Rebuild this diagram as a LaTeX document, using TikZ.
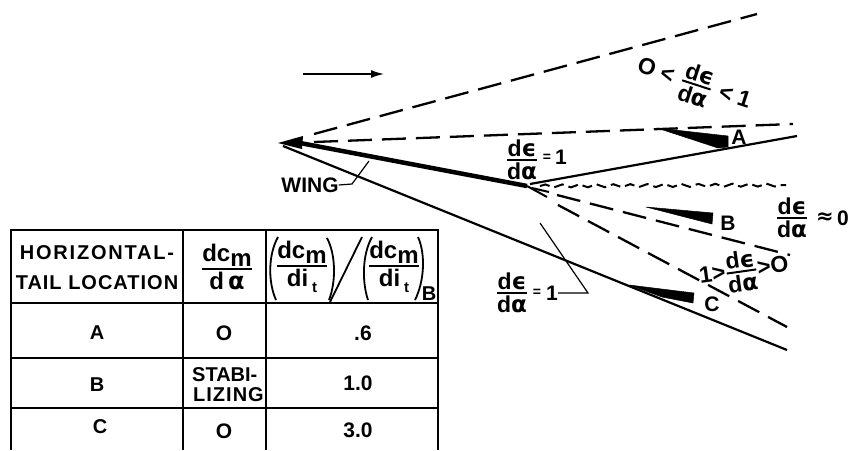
\documentclass[tikz,border=0pt]{standalone}
\usepackage{fontspec}
\usetikzlibrary{decorations.pathmorphing,arrows.meta}
\setmainfont{Liberation Sans}
\newfontfamily\widefont{Liberation Sans}[LetterSpace=9]
\newfontfamily\midfont{Liberation Sans}[LetterSpace=5]
\newfontfamily\gfont{DejaVu Sans}
\newcommand\eps{{\gfont\bfseries ϵ}}
\newcommand\alp{{\gfont\bfseries α}}
\newcommand\fr[2]{\ensuremath{\fontdimen8\textfont3=2pt \frac{\hbox{#1}}{\hbox{#2}}}}
\newcommand\de{\fr{d\eps}{d\alp}}
\newcommand\subm{\raisebox{-5pt}{m}}
\newcommand\subt{\raisebox{-6pt}{\fontsize{15}{15}\selectfont t}}
\tikzset{
  lab/.style={inner sep=0pt,font=\fontsize{23}{26}\selectfont\bfseries},
  bigl/.style={inner sep=0pt,font=\fontsize{21}{24}\selectfont\bfseries},
  hdr/.style={inner sep=0pt,font=\fontsize{24}{27}\selectfont\bfseries},
  small/.style={inner sep=0pt,font=\fontsize{14}{16}\selectfont\bfseries},
  wide/.style={inner sep=0pt,font=\fontsize{20}{24}\selectfont\widefont\bfseries},
  mid/.style={inner sep=0pt,font=\fontsize{20}{24}\selectfont\midfont\bfseries},
  plain/.style={inner sep=0pt,font=\fontsize{20}{24}\selectfont\bfseries},
  solid line/.style={draw,line width=2.2pt},
  dash line/.style={draw,line width=2.3pt,dash pattern=on 24pt off 10pt},
  wave line/.style={draw,line width=2pt,dash pattern=on 10pt off 5pt,
     decorate,decoration={snake,amplitude=1.5pt,segment length=17pt}},
  wedge/.style={fill=black,draw=black,line width=.5pt,line join=round},
  grid line/.style={draw,line width=1.8pt},
  leader/.style={draw,line width=1.2pt},
  paren/.style={draw,line width=1.8pt},
}
\begin{document}
\begin{tikzpicture}[x=1pt,y=-1pt]
\useasboundingbox (0,0) rectangle (850,450);

% flow arrow
\coordinate (f1) at (303,74); \coordinate (f2) at (384,74);
\draw[line width=1.6pt,-{Latex[length=13pt,width=8pt]}] (f1) -- (f2);

% wing
\coordinate (tip) at (278,143);
\coordinate (te) at (527,186);
\fill (tip) -- (303,136) -- (302,149) -- cycle;
\draw[line width=4.5pt] (300,143) -- (te);
\coordinate (f3) at (547,197); \coordinate (f4) at (549,192);
\draw[line width=2pt] (te) -- (f3);
\draw[line width=2pt] (532,188) -- (f4);

% solid wake lines
\coordinate (lowS) at (283,146); \coordinate (lowE) at (787,350);
\path[solid line] (lowS) -- (lowE);
\coordinate (upS) at (530,184); \coordinate (upE) at (797,136);
\path[solid line] (upS) -- (upE);

% dashed lines
\coordinate (d1s) at (314,134); \coordinate (d1e) at (757,14);
\path[dash line] (d1s) -- (d1e);
\coordinate (d2s) at (314,142); \coordinate (d2e) at (793,124);
\path[dash line] (d2s) -- (d2e);
\coordinate (d3s) at (557,195); \coordinate (d3e) at (790,255);
\path[dash line] (d3s) -- (d3e);
\coordinate (d4s) at (558,205); \coordinate (d4e) at (787,327);
\path[dash line] (d4s) -- (d4e);
\coordinate (w1) at (540,186); \coordinate (w2) at (786,185);
\path[wave line] (w1) -- (w2);

% tails
\path[wedge] (657,128) -- (728,136) -- (728,147) -- (718,148) -- cycle;
\path[wedge] (646,207) -- (713,213) -- (712,224) -- cycle;
\path[wedge] (629,285) -- (694,293) -- (693,303) -- (662,297) -- cycle;
\node[bigl] (lA) at (739,137) {A};
\node[bigl] (lB) at (728,223) {B};
\node[bigl] (lC) at (712,304) {C};

% WING label
\node[bigl] (wing) at (310,185) {WING};
\coordinate (wl1) at (352,184); \coordinate (wl2) at (369,161);
\path[leader] (wing.east) -- (wl1) -- (wl2);

% epsilon labels
\node[lab] (e1) at (522,160) {\de};
\node[small] (e1a) at (547,158) {=};
\node[bigl] (e1b) at (561,157) {1};
\node[lab,rotate=-18] (e2) at (694,84) {O\hspace*{6pt}<\hspace*{8pt}\de\hspace*{8pt}<\hspace*{6pt}1};
\node[lab] (e3) at (792,218) {\de};
\node[bigl] (e3a) at (825,218) {\gfont≈};
\node[bigl] (e3b) at (843,218) {0};
\node[lab,rotate=8] (e4) at (744,271) {1>\de>O};
\node[lab] (e5) at (512,293) {\de};
\node[small] (e5a) at (537,293) {=};
\node[bigl] (e5b) at (552,293) {1};
\coordinate (b1) at (588,293); \coordinate (b2) at (540,223);
\path[leader] (e5b.east) -- (b1) -- (b2);

% table
\path[grid line] (11,450) -- (11,230) -- (438,230) -- (438,450);
\path[grid line] (183,230) -- (183,450);
\path[grid line] (266,230) -- (266,450);
\path[grid line] (11,303) -- (438,303);
\path[grid line] (11,358) -- (438,358);
\path[grid line] (11,408) -- (438,408);

\node[wide] (h1a) at (97,253) {HORIZONTAL-};
\node[mid] (h1b) at (97,283) {TAIL LOCATION};
\node[hdr] (h2) at (227,267) {\fr{dc\subm}{d\,\alp}};
\node[hdr] (h3) at (302,267) {\fr{dc\subm}{di\,\subt}};
\node[hdr] (h4) at (394,267) {\fr{dc\subm}{di\,\subt}};
\node[plain] (h5) at (429,294) {B};
\path[paren] (278,237) .. controls (268,255) and (268,282) .. (276,300);
\path[paren] (327,238) .. controls (336,255) and (336,282) .. (329,300);
\path[paren] (372,237) .. controls (362,255) and (362,282) .. (368,300);
\path[paren] (418,237) .. controls (426,255) and (424,282) .. (415,300);
\coordinate (s1) at (330,302); \coordinate (s2) at (362,237);
\path[paren] (s1) -- (s2);

\node[plain] (rA) at (97,333) {A};
\node[bigl] (rA2) at (224,333) {O};
\node[bigl] (rA3) at (363,333) {.6};
\node[plain] (rB) at (97,385) {B};
\node[plain,anchor=west] (rB2a) at (192,375) {STABI-};
\node[mid,anchor=west] (rB2b) at (193,395) {LIZING};
\node[bigl] (rB3) at (358,383) {1.0};
\node[plain] (rC) at (100,427) {C};
\node[bigl] (rC2) at (224,431) {O};
\node[bigl] (rC3) at (358,430) {3.0};
\end{tikzpicture}
\end{document}
